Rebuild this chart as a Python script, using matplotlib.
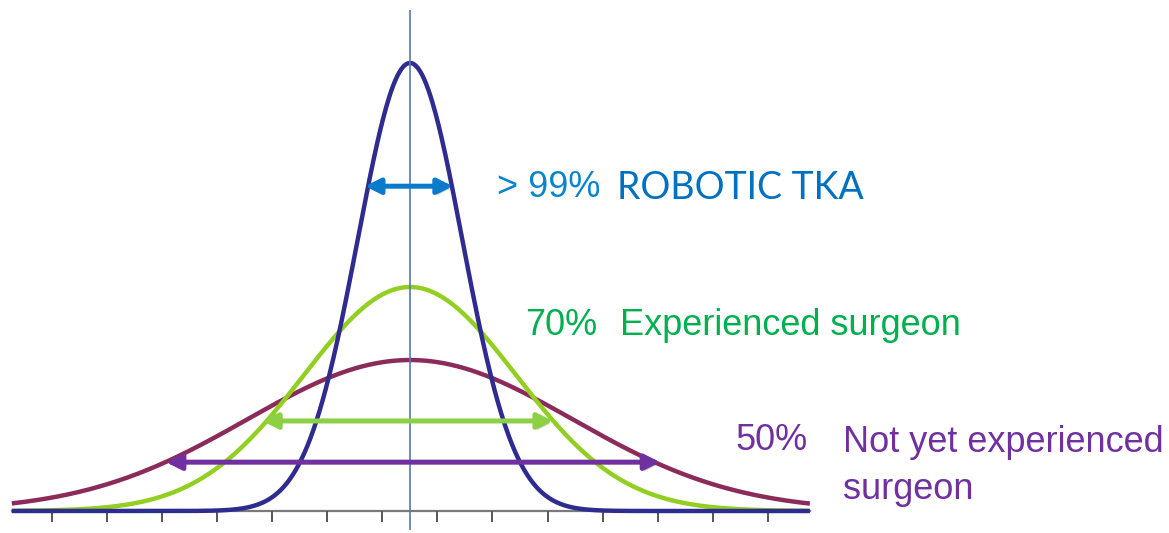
import numpy as np
import matplotlib
matplotlib.use("Agg")
from matplotlib import pyplot as plt
import matplotlib.patheffects as pe

# curve parameters (x in tick-spacing units, y relative to robotic peak)
curve_names = ["Robotic", "Experienced", "Not yet experienced"]
curve_peaks = [1.0, 0.50, 0.337]
curve_sigmas = [0.95, 1.93, 2.96]
curve_colors = ["#2f2c90", "#93cf22", "#8a2b5a"]

# spread arrows: (left, right, height)
arrow_left = [-0.82, -2.69, -4.44]
arrow_right = [0.78, 2.60, 4.55]
arrow_y = [0.725, 0.201, 0.109]
arrow_colors = ["#0a7acb", "#8cd044", "#7030a0"]

pct_labels = ["> 99%", "70%", "50%"]
group_labels = ["ROBOTIC TKA", "Experienced surgeon", "Not yet experienced\nsurgeon"]

tick_pos = np.arange(-6.5, 7.0, 1.0)
x_min, x_max = -7.24, 7.27

fig = plt.figure(figsize=(11.69, 5.33), dpi=100)
ax = fig.add_axes([0, 0, 1, 1])
ax.set_xlim(-410 / 55, (1169 - 410) / 55)
ax.set_ylim(-22 / 448, 511 / 448)
ax.axis("off")

x = np.linspace(x_min, x_max, 800)

# axis and ticks
ax.plot([x_min, x_max], [0, 0], color="#7a7a7a", lw=1.6, zorder=1)
ax.vlines(tick_pos, -0.024, 0, color="#555555", lw=1.4, zorder=1)

# centre line
ax.vlines(0, -0.042, 1.118, color="#4f78c0", lw=1.2, zorder=3)

for pk, sg, col in zip(curve_peaks[::-1], curve_sigmas[::-1], curve_colors[::-1]):
    y = pk * np.exp(-x ** 2 / (2 * sg ** 2))
    ax.plot(x, y, color=col, lw=3.2, solid_capstyle="butt", zorder=2)

shadow = [pe.SimplePatchShadow(offset=(1.5, -2), alpha=0.25), pe.Normal()]
for xl, xr, ya, col in zip(arrow_left, arrow_right, arrow_y, arrow_colors):
    ax.annotate("", xy=(xr, ya), xytext=(xl, ya),
                arrowprops=dict(arrowstyle="<|-|>,head_length=0.9,head_width=0.45",
                                color=col, lw=3.6, shrinkA=0, shrinkB=0,
                                path_effects=shadow),
                zorder=4)

# labels
ax.text(1.58, 0.722, pct_labels[0], color="#0b84d0", fontsize=26,
        family="Liberation Sans", va="center", ha="left")
ax.text(3.76, 0.722, group_labels[0], color="#0070c0", fontsize=27,
        family="Lato", va="center", ha="left")

ax.text(2.09, 0.413, pct_labels[1], color="#00b050", fontsize=26,
        family="Liberation Sans", va="center", ha="left")
ax.text(3.82, 0.413, group_labels[1], color="#00b050", fontsize=26,
        family="Liberation Sans", va="center", ha="left")

ax.text(5.91, 0.158, pct_labels[2], color="#7030a0", fontsize=26,
        family="Liberation Sans", va="center", ha="left")
ax.text(7.87, 0.100, group_labels[2], color="#7030a0", fontsize=26,
        family="Liberation Sans", va="center", ha="left", linespacing=1.45)

fig.savefig("out.png", dpi=100)
